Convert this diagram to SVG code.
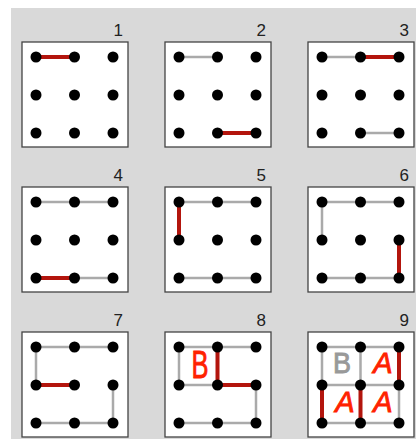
<svg xmlns="http://www.w3.org/2000/svg" xmlns:xlink="http://www.w3.org/1999/xlink" width="416" height="439" viewBox="0 0 416 439">
<style>
.box{fill:#fff;stroke:#444;stroke-width:1.3}
.g{stroke:#aaa;stroke-width:2.5;stroke-linecap:round}
.r{stroke:#b3150d;stroke-width:4}
.num{font-family:"Liberation Sans",Arial,sans-serif;font-size:17px;fill:#222;text-anchor:end}
.let{font-family:"Liberation Sans",Arial,sans-serif;text-anchor:middle;stroke-width:0.9}
.red{fill:#ff2200;stroke:#ff2200}
.gry{fill:#999;stroke:#999}
</style>
<defs>
<rect id="box" class="box" x="0" y="0" width="106" height="105"/>
<g id="dots" fill="#000">
<circle cx="14" cy="15" r="5.5"/><circle cx="52.5" cy="15" r="5.5"/><circle cx="91" cy="15" r="5.5"/>
<circle cx="14" cy="53" r="5.5"/><circle cx="52.5" cy="53" r="5.5"/><circle cx="91" cy="53" r="5.5"/>
<circle cx="14" cy="91" r="5.5"/><circle cx="52.5" cy="91" r="5.5"/><circle cx="91" cy="91" r="5.5"/>
</g>
</defs>
<rect x="11" y="8" width="405" height="431" fill="#d9d9d9"/>

<g id="panel1" transform="translate(22,42)">
<use xlink:href="#box"/>
<text class="num" x="101" y="-6">1</text>
<g class="connectors">
<line class="r" x1="14" y1="15" x2="52.5" y2="15"/>
</g>
<use xlink:href="#dots"/>
</g>

<g id="panel2" transform="translate(165,42)">
<use xlink:href="#box"/>
<text class="num" x="101" y="-6">2</text>
<g class="connectors">
<line class="g" x1="14" y1="15" x2="52.5" y2="15"/>
<line class="r" x1="52.5" y1="91" x2="91" y2="91"/>
</g>
<use xlink:href="#dots"/>
</g>

<g id="panel3" transform="translate(308,42)">
<use xlink:href="#box"/>
<text class="num" x="101" y="-6">3</text>
<g class="connectors">
<line class="g" x1="14" y1="15" x2="52.5" y2="15"/>
<line class="r" x1="52.5" y1="15" x2="91" y2="15"/>
<line class="g" x1="52.5" y1="91" x2="91" y2="91"/>
</g>
<use xlink:href="#dots"/>
</g>

<g id="panel4" transform="translate(22,187)">
<use xlink:href="#box"/>
<text class="num" x="101" y="-6">4</text>
<g class="connectors">
<line class="g" x1="14" y1="15" x2="91" y2="15"/>
<line class="r" x1="14" y1="91" x2="52.5" y2="91"/>
<line class="g" x1="52.5" y1="91" x2="91" y2="91"/>
</g>
<use xlink:href="#dots"/>
</g>

<g id="panel5" transform="translate(165,187)">
<use xlink:href="#box"/>
<text class="num" x="101" y="-6">5</text>
<g class="connectors">
<line class="g" x1="14" y1="15" x2="91" y2="15"/>
<line class="r" x1="14" y1="15" x2="14" y2="53"/>
<line class="g" x1="14" y1="91" x2="91" y2="91"/>
</g>
<use xlink:href="#dots"/>
</g>

<g id="panel6" transform="translate(308,187)">
<use xlink:href="#box"/>
<text class="num" x="101" y="-6">6</text>
<g class="connectors">
<line class="g" x1="14" y1="15" x2="91" y2="15"/>
<line class="g" x1="14" y1="15" x2="14" y2="53"/>
<line class="r" x1="91" y1="53" x2="91" y2="91"/>
<line class="g" x1="14" y1="91" x2="91" y2="91"/>
</g>
<use xlink:href="#dots"/>
</g>

<g id="panel7" transform="translate(22,332)">
<use xlink:href="#box"/>
<text class="num" x="101" y="-6">7</text>
<g class="connectors">
<line class="g" x1="14" y1="15" x2="91" y2="15"/>
<line class="g" x1="14" y1="15" x2="14" y2="53"/>
<line class="r" x1="14" y1="53" x2="52.5" y2="53"/>
<line class="g" x1="91" y1="53" x2="91" y2="91"/>
<line class="g" x1="14" y1="91" x2="91" y2="91"/>
</g>
<use xlink:href="#dots"/>
</g>

<g id="panel8" transform="translate(165,332)">
<use xlink:href="#box"/>
<text class="num" x="101" y="-6">8</text>
<g class="connectors">
<line class="g" x1="14" y1="15" x2="91" y2="15"/>
<line class="g" x1="14" y1="15" x2="14" y2="53"/>
<line class="g" x1="14" y1="53" x2="52.5" y2="53"/>
<line class="r" x1="52.5" y1="15" x2="52.5" y2="53"/>
<line class="r" x1="52.5" y1="53" x2="91" y2="53"/>
<line class="g" x1="91" y1="53" x2="91" y2="91"/>
<line class="g" x1="14" y1="91" x2="91" y2="91"/>
</g>
<text class="let red" x="35" y="46" font-size="38" textLength="17" lengthAdjust="spacingAndGlyphs">B</text>
<use xlink:href="#dots"/>
</g>

<g id="panel9" transform="translate(308,332)">
<use xlink:href="#box"/>
<text class="num" x="101" y="-6">9</text>
<g class="connectors">
<line class="g" x1="14" y1="15" x2="91" y2="15"/>
<line class="g" x1="14" y1="15" x2="14" y2="53"/>
<line class="g" x1="52.5" y1="15" x2="52.5" y2="53"/>
<line class="r" x1="91" y1="15" x2="91" y2="53"/>
<line class="g" x1="14" y1="53" x2="91" y2="53"/>
<line class="r" x1="14" y1="53" x2="14" y2="91"/>
<line class="r" x1="52.5" y1="53" x2="52.5" y2="91"/>
<line class="g" x1="91" y1="53" x2="91" y2="91"/>
<line class="g" x1="14" y1="91" x2="91" y2="91"/>
</g>
<text class="let gry" x="34" y="41" font-size="29" textLength="18" lengthAdjust="spacingAndGlyphs">B</text>
<text class="let red" x="75" y="41" font-size="29" font-style="italic">A</text>
<text class="let red" x="37" y="80" font-size="29" font-style="italic">A</text>
<text class="let red" x="75" y="80" font-size="29" font-style="italic">A</text>
<use xlink:href="#dots"/>
</g>
</svg>
